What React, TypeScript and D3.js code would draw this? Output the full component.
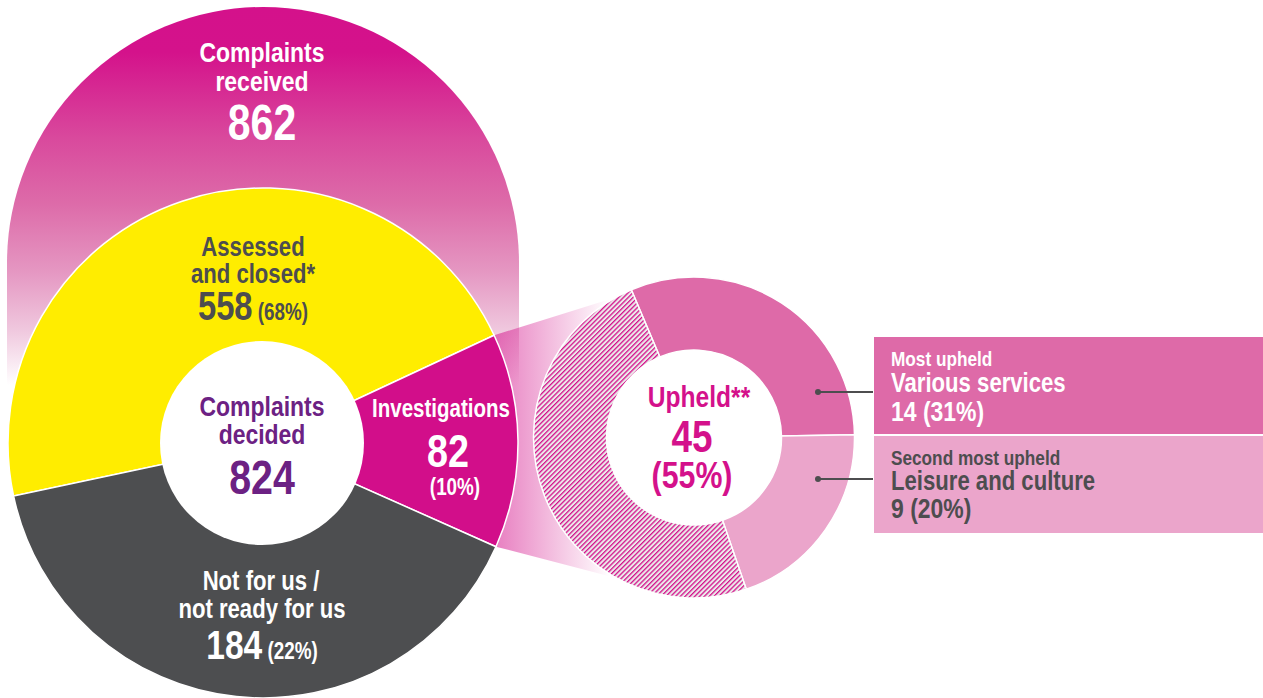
import React from "react";
import * as d3 from "d3";

// ---- data ----
const receivedLabel = ["Complaints", "received"];
const receivedTotal = 862;
const decidedLabel = ["Complaints", "decided"];
const decidedTotal = 824;

const outcomeNames = ["Assessed and closed*", "Investigations", "Not for us / not ready for us"];
const outcomeValues = [558, 82, 184];
const outcomePercents = [68, 10, 22];
// visual share of each slice as drawn in the original (not proportional)
const outcomeDrawnShare = [167, 49, 144];
const outcomeColors = ["#ffed00", "#d20e8a", "#4d4e50"];

const upheldTotal = 45;
const upheldPercent = 55;
const upheldNames = ["Various services", "Leisure and culture", "Other"];
const upheldValues = [14, 9, upheldTotal - 14 - 9];
const upheldPercents = [31, 20];
const upheldRanks = ["Most upheld", "Second most upheld"];

const FONT = "'Liberation Sans', Arial, sans-serif";
const SX = 0.82;

function T({ x, y, size, anchor = "middle", fill, children }: any) {
  return (
    <text
      transform={`translate(${x},${y}) scale(${SX},1)`}
      fontSize={size}
      textAnchor={anchor}
      fill={fill}
    >
      {children}
    </text>
  );
}

export default function App() {
  const W = 1263, H = 698;
  const cx = 263, cy = 443, R = 255, r0 = 102;
  const domeCy = 263, domeR = 256;
  const dcx = 694, dcy = 437.5, dR = 160.5, dr = 87.5;
  const deg = Math.PI / 180;

  const pie = d3.pie<number>().sort(null).value((d) => d).startAngle(-102 * deg).endAngle(258 * deg);
  const arcsOuter = pie(outcomeDrawnShare);
  const arcGen = d3.arc<d3.PieArcDatum<number>>().innerRadius(0).outerRadius(R);

  const dpie = d3.pie<number>().sort(null).value((d) => d).startAngle(-23 * deg).endAngle(337 * deg);
  const darcs = dpie(upheldValues);
  const darcGen = d3.arc<d3.PieArcDatum<number>>().innerRadius(dr).outerRadius(dR);
  const donutFills = ["#de6aa8", "#eba5cb", "url(#hatch)"];

  const invArc = arcsOuter[1];
  const p1 = [cx + R * Math.sin(invArc.startAngle), cy - R * Math.cos(invArc.startAngle)];
  const p2 = [cx + R * Math.sin(invArc.endAngle), cy - R * Math.cos(invArc.endAngle)];
  const line = d3.line();
  const connector = line([
    [p1[0] - 20, p1[1] + 6],
    [p1[0], p1[1]],
    [620, 296],
    [620, 579],
    [p2[0], p2[1]],
    [p2[0] - 20, p2[1] - 6],
  ]) + "Z";

  const dome = `M${cx - domeR},${domeCy} A${domeR},${domeR} 0 0 1 ${cx + domeR},${domeCy} L${cx + domeR},${cy} L${cx - domeR},${cy} Z`;

  const boxX = 874;
  const boxY = [337, 436];
  const boxH = [97, 97];
  const dotY = [392, 479];

  return (
    <svg width={W} height={H} style={{ position: "absolute", left: 0, top: 0 }} fontFamily={FONT} fontWeight="bold">
      <defs>
        <linearGradient id="domeGrad" gradientUnits="userSpaceOnUse" x1="0" y1="7" x2="0" y2="385">
          <stop offset="0" stopColor="#d4118b" />
          <stop offset="0.12" stopColor="#d4128b" />
          <stop offset="0.35" stopColor="#d94a9d" />
          <stop offset="0.52" stopColor="#dd6ba9" />
          <stop offset="0.7" stopColor="#e597c2" />
          <stop offset="0.85" stopColor="#efc6dd" />
          <stop offset="1" stopColor="#ffffff" />
        </linearGradient>
        <linearGradient id="connGrad" gradientUnits="userSpaceOnUse" x1="493" y1="0" x2="610" y2="0">
          <stop offset="0" stopColor="#d4118b" stopOpacity="0.55" />
          <stop offset="1" stopColor="#d4118b" stopOpacity="0" />
        </linearGradient>
        <pattern id="hatch" patternUnits="userSpaceOnUse" width="3.4" height="3.4" patternTransform="rotate(45)">
          <rect width="3.4" height="3.4" fill="#ebebeb" />
          <rect width="1.3" height="3.4" fill="#d4118b" />
        </pattern>
      </defs>

      {/* dome: complaints received */}
      <path d={dome} fill="url(#domeGrad)" />

      {/* connector */}
      <path d={connector} fill="url(#connGrad)" />

      {/* outer pie */}
      {arcsOuter.map((a, i) => (
        <path key={i} d={arcGen(a) || ""} transform={`translate(${cx},${cy})`} fill={outcomeColors[i]} stroke="#fff" strokeWidth={1.5} />
      ))}
      <circle cx={cx - 1} cy={cy} r={r0} fill="#fff" />

      {/* donut */}
      {darcs.map((a, i) => (
        <path key={i} d={darcGen(a) || ""} transform={`translate(${dcx},${dcy})`} fill={donutFills[i]} stroke="#fff" strokeWidth={1.5} />
      ))}

      {/* leader lines */}
      {dotY.map((y, i) => (
        <g key={i}>
          <line x1={818} x2={873} y1={y} y2={y} stroke="#4d4d4f" strokeWidth={2} />
          <circle cx={818} cy={y} r={3} fill="#4d4d4f" />
        </g>
      ))}

      {/* boxes */}
      <rect x={boxX} y={boxY[0]} width={W - boxX} height={boxH[0]} fill="#de6aa8" />
      <rect x={boxX} y={boxY[1]} width={W - boxX} height={boxH[1]} fill="#eba5cb" />

      {/* dome text */}
      <T x={262} y={62} size={28} fill="#fff">{receivedLabel[0]}</T>
      <T x={262} y={91} size={28} fill="#fff">{receivedLabel[1]}</T>
      <T x={262} y={140} size={50} fill="#fff">{receivedTotal}</T>

      {/* assessed */}
      <T x={253} y={256} size={27} fill="#4d4d4f">Assessed</T>
      <T x={253} y={283} size={27} fill="#4d4d4f">and closed*</T>
      <T x={253} y={320} fill="#4d4d4f">
        <tspan fontSize={40}>{outcomeValues[0]}</tspan>
        <tspan fontSize={23}>{` (${outcomePercents[0]}%)`}</tspan>
      </T>

      {/* centre */}
      <T x={262} y={416} size={28} fill="#6c2183">{decidedLabel[0]}</T>
      <T x={262} y={444} size={28} fill="#6c2183">{decidedLabel[1]}</T>
      <T x={262} y={494} size={48} fill="#6c2183">{decidedTotal}</T>

      {/* investigations */}
      <T x={441} y={417} size={25} fill="#fff">{outcomeNames[1]}</T>
      <T x={448} y={467} size={46} fill="#fff">{outcomeValues[1]}</T>
      <T x={455} y={495} size={23} fill="#fff">{`(${outcomePercents[1]}%)`}</T>

      {/* not for us */}
      <T x={261} y={590} size={27} fill="#fff">Not for us /</T>
      <T x={262} y={618} size={27} fill="#fff">not ready for us</T>
      <T x={262} y={659} fill="#fff">
        <tspan fontSize={41}>{outcomeValues[2]}</tspan>
        <tspan fontSize={23}>{` (${outcomePercents[2]}%)`}</tspan>
      </T>

      {/* upheld */}
      <T x={699} y={407} size={30} fill="#d4118b">Upheld**</T>
      <T x={692} y={452} size={45} fill="#d4118b">{upheldTotal}</T>
      <T x={692} y={488} size={37} fill="#d4118b">{`(${upheldPercent}%)`}</T>

      {/* box texts */}
      <T x={891} y={366} size={21} anchor="start" fill="#fff">{upheldRanks[0]}</T>
      <T x={891} y={392} size={27} anchor="start" fill="#fff">{upheldNames[0]}</T>
      <T x={891} y={421} size={28} anchor="start" fill="#fff">{`${upheldValues[0]} (${upheldPercents[0]}%)`}</T>

      <T x={891} y={465} size={21} anchor="start" fill="#4d4d4f">{upheldRanks[1]}</T>
      <T x={891} y={490} size={27} anchor="start" fill="#4d4d4f">{upheldNames[1]}</T>
      <T x={891} y={518} size={28} anchor="start" fill="#4d4d4f">{`${upheldValues[1]} (${upheldPercents[1]}%)`}</T>
    </svg>
  );
}
